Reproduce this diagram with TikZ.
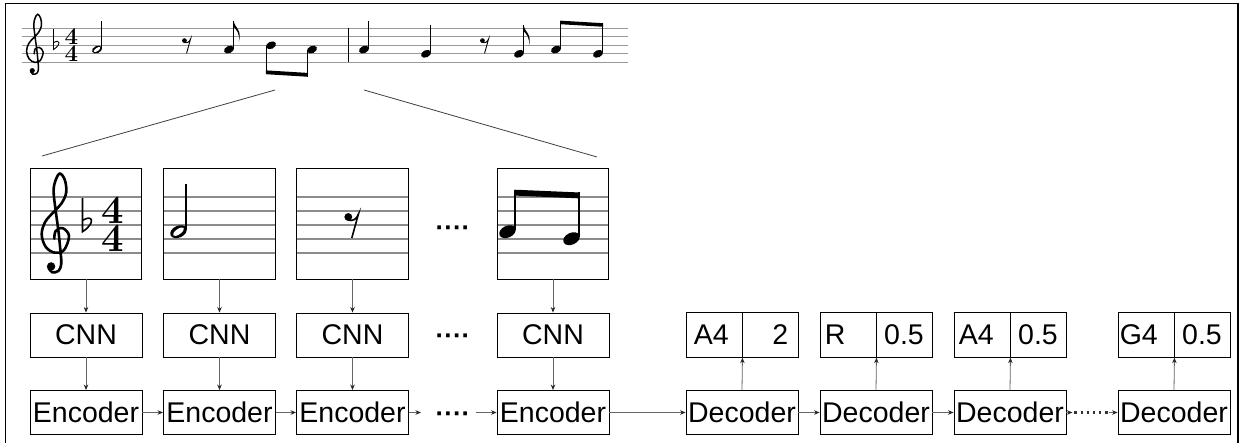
\documentclass[tikz,border=0pt]{standalone}
\usepackage{fontspec}
\newfontfamily\labelfont{Liberation Sans}
\usetikzlibrary{arrows.meta,calc}

% ---- music helpers (staff units: 1 = one staff space, y=0 bottom line) ----
\newcommand\Mat[2]{\begin{scope}[xshift=#1pt]#2\end{scope}}
\newcommand\Qup[1]{\fill[rotate around={25:(0,#1)}] (0,#1) ellipse (0.62 and 0.42);
  \draw[mstem] (0.55,#1+0.1) -- (0.55,#1+3.4);}
\newcommand\Hup[1]{\Qup{#1}\fill[white,rotate around={35:(0,#1)}] (0,#1) ellipse (0.46 and 0.19);}
\newcommand\Eup[1]{\Qup{#1}\fill (0.5,#1+3.4) .. controls (0.65,#1+2.6) and (1.6,#1+2.3) .. (1.15,#1+0.9)
  .. controls (1.35,#1+1.9) and (0.8,#1+2.4) .. (0.5,#1+2.7) -- cycle;}
\newcommand\BeamDown[5]{%
  \fill[rotate around={25:(0,#1)}] (0,#1) ellipse (0.62 and 0.42);
  \fill[rotate around={25:({#2/\mss},#3)}] ({#2/\mss},#3) ellipse (0.62 and 0.42);
  \draw[mstem] (-0.55,#1-0.1) -- (-0.55,#4);
  \draw[mstem] ({#2/\mss-0.55},#3-0.1) -- ({#2/\mss-0.55},#5);
  \fill (-0.6,#4) -- ({#2/\mss-0.5},#5) -- ({#2/\mss-0.5},#5+0.45) -- (-0.6,#4+0.45) -- cycle;}
\newcommand\BeamUp[5]{%
  \fill[rotate around={25:(0,#1)}] (0,#1) ellipse (0.62 and 0.42);
  \fill[rotate around={25:({#2/\mss},#3)}] ({#2/\mss},#3) ellipse (0.62 and 0.42);
  \draw[mstem] (0.55,#1+0.1) -- (0.55,#4);
  \draw[mstem] ({#2/\mss+0.55},#3+0.1) -- ({#2/\mss+0.55},#5);
  \fill (0.5,#4) -- ({#2/\mss+0.6},#5) -- ({#2/\mss+0.6},#5-0.42) -- (0.5,#4-0.42) -- cycle;}
\newcommand\ERest{\fill (-0.3,2.55) circle (0.28);
  \draw[mrest] (-0.35,2.35) .. controls (0.0,2.2) and (0.3,2.4) .. (0.42,2.75) -- (-0.05,1.05);}
\newcommand\Flat{\draw[mflat] (0,3.9) -- (0,1.5) .. controls (0.95,2.1) and (0.75,2.8) .. (0,2.3);}
% #1 font size, #2 baseline distance (= two staff spaces), #3 name
\newcommand\TSig[3]{\node[inner sep=0pt,align=center,font=\bfseries\fontsize{#1}{#2}\selectfont] (#3) at (0,2) {4\\4};}
\newcommand\GClef{\draw[mclef] plot[smooth,tension=0.6] coordinates {(-0.15,1.0) (-0.05,1.55) (0.45,1.75) (0.9,1.2) (0.55,0.2) (-0.1,0.0) (-0.75,0.4) (-1.05,1.3) (-0.8,2.2) (-0.2,2.9) (0.35,3.5) (0.7,4.3) (0.6,5.2) (0.25,5.65) (-0.05,5.2) (-0.2,4.4) (-0.05,3.0) (0.15,1.5) (0.3,0.0) (0.35,-0.8) (0.15,-1.3) (-0.3,-1.4) (-0.55,-1.1)};
  \fill (-0.38,-0.98) circle (0.3);}

\begin{document}
\begin{tikzpicture}[x=1pt,y=-1pt,
  box/.style={draw, line width=0.9pt, minimum width=112pt, minimum height=44pt, inner sep=0pt,
    font=\labelfont\fontsize{28.5}{30}\selectfont},
  cell/.style={draw, line width=0.9pt, minimum width=56pt, minimum height=44.5pt, inner sep=0pt},
  lbl/.style={font=\labelfont\fontsize{28.5}{30}\selectfont, inner sep=0pt},
  arr/.style={draw=black!60, line width=0.8pt, -{Stealth[length=5.5pt,width=4.5pt,color=black!85]}},
  dotsl/.style={font=\labelfont\bfseries\fontsize{26}{26}\selectfont, inner sep=0pt},
  sline/.style={draw=black!45, line width=1.8pt},
  tline/.style={draw=black!40, line width=1.1pt},
  zline/.style={draw=black!75, line width=0.8pt},
  imgbox/.style={minimum width=111pt, minimum height=111pt, inner sep=0pt}]
\useasboundingbox (0,0) rectangle (1242,443);
\fill[white] (0,0) rectangle (1242,443);
\draw[line width=1.2pt] (5.5,446) -- (5.5,3.5) -- (1238,3.5) -- (1238,446);

% ---- top staff ----
\foreach \i in {0,...,4} \draw[tline] (22,62.3-\i*8.5) -- (628,62.3-\i*8.5);
\draw[line width=1pt] (348,28.3) -- (348,62.3);
\begin{scope}[shift={(0,62.3)}, x=8.5pt, y=8.5pt,
  mstem/.style={line width=0.9pt}, mclef/.style={line width=1.5pt,line cap=round},
  mflat/.style={line width=0.9pt}, mrest/.style={line width=0.9pt}]
\def\mss{8.5}
\Mat{35.5}{\GClef}
\Mat{53.5}{\Flat}
\Mat{71.5}{\TSig{24}{17}{ta}}
\Mat{97}{\Hup{1.5}}
\Mat{187}{\ERest}
\Mat{229}{\Eup{1.5}}
\Mat{271}{\BeamDown{2}{41}{1.5}{-1.4}{-1.7}}
\Mat{364}{\Qup{1.5}}
\Mat{426}{\Qup{1}}
\Mat{485}{\ERest}
\Mat{519}{\Eup{1}}
\Mat{556}{\BeamUp{1.5}{42}{1}{4.9}{4.6}}
\end{scope}

% ---- zoom lines ----
\coordinate (zl1) at (275,90); \coordinate (zl2) at (42,156);
\coordinate (zr1) at (364,90); \coordinate (zr2) at (597,157);
\draw[zline] (zl1) -- (zl2);
\draw[zline] (zr1) -- (zr2);

% ---- image boxes ----
\node[imgbox] (img1) at (86,223.8) {};
\node[imgbox] (img2) at (219.5,223.8) {};
\node[imgbox] (img3) at (352.5,223.8) {};
\node[imgbox] (img4) at (553,223.8) {};
\foreach \n in {img1,img2,img3,img4}{
  \foreach \yy in {196.7,211,225,239.3,252.7}{\draw[sline] (\n.west |- 0,\yy) -- (\n.east |- 0,\yy);}
}
\begin{scope}[shift={(0,252.7)}, x=14pt, y=14pt,
  mstem/.style={line width=1.6pt}, mclef/.style={line width=2.6pt,line cap=round},
  mflat/.style={line width=1.6pt}, mrest/.style={line width=1.6pt}]
\def\mss{14}
\Mat{56.4}{\GClef}
\Mat{82.5}{\Flat}
\Mat{112.5}{\TSig{40}{28}{tb}}
\Mat{178.5}{\Hup{1.5}}
\Mat{352.5}{\ERest}
\Mat{507.5}{\BeamUp{1.5}{64}{1}{4.5}{4.3}}
\end{scope}
\foreach \n in {img1,img2,img3,img4}{\draw[line width=0.9pt] (\n.south west) rectangle (\n.north east);}
\node[dotsl] (dimg) at (453,231) {····};

% ---- CNN row ----
\node[box] (cnn1) at (86,335) {CNN};
\node[box] (cnn2) at (219.5,335) {CNN};
\node[box] (cnn3) at (352.5,335) {CNN};
\node[box] (cnn4) at (553,335) {CNN};
\node[dotsl] (dcnn) at (453,339) {····};

% ---- encoder row ----
\node[box] (enc1) at (86,412.5) {Encoder};
\node[box] (enc2) at (219.5,412.5) {Encoder};
\node[box] (enc3) at (352.5,412.5) {Encoder};
\node[box] (enc4) at (553,412.5) {Encoder};
\node[dotsl] (denc) at (453,417.5) {····};
\coordinate (e3out) at (421,412.5);
\coordinate (e4in) at (476,412.5);

% ---- decoder row ----
\node[box] (dec1) at (742,412.5) {Decoder};
\node[box] (dec2) at (876,412.5) {Decoder};
\node[box] (dec3) at (1010,412.5) {Decoder};
\node[box] (dec4) at (1174,412.5) {Decoder};

% ---- output cells ----
\foreach \k/\cx in {1/742,2/876,3/1010,4/1174}{
  \node[cell] (o\k a) at (\cx-28,335) {};
  \node[cell] (o\k b) at (\cx+28,335) {};
}
\node[lbl,anchor=west] (t1a) at ($(o1a.west)+(8,0)$) {A4};
\node[lbl,anchor=east] (t1b) at ($(o1b.east)+(-10,0)$) {2};
\node[lbl,anchor=west] (t2a) at ($(o2a.west)+(5,0)$) {R};
\node[lbl] (t2b) at (o2b) {0.5};
\node[lbl,anchor=west] (t3a) at ($(o3a.west)+(5,0)$) {A4};
\node[lbl] (t3b) at (o3b) {0.5};
\node[lbl,anchor=west] (t4a) at ($(o4a.west)+(2,0)$) {G4};
\node[lbl] (t4b) at (o4b) {0.5};

% ---- connectors ----
\foreach \k in {1,2,3,4}{
  \draw[arr] (img\k.south) -- (cnn\k.north);
  \draw[arr] (cnn\k.south) -- (enc\k.north);
  \draw[arr] (dec\k.north) -- (o\k a.south east);
}
\draw[arr] (enc1.east) -- (enc2.west);
\draw[arr] (enc2.east) -- (enc3.west);
\draw[arr] (enc3.east) -- (e3out);
\draw[arr] (e4in) -- (enc4.west);
\draw[arr] (enc4.east) -- (dec1.west);
\draw[arr] (dec1.east) -- (dec2.west);
\draw[arr] (dec2.east) -- (dec3.west);
\coordinate (d3out) at ($(dec3.east)+(6,0)$);
\coordinate (d4in) at ($(dec4.west)+(-9,0)$);
\draw[line width=2.2pt, black!80, dash pattern=on 2.2pt off 4pt, shorten <=8pt, shorten >=10pt] (dec3.east) -- (dec4.west);
\draw[arr] (dec3.east) -- (d3out);
\draw[arr] (d4in) -- (dec4.west);
\end{tikzpicture}
\end{document}
